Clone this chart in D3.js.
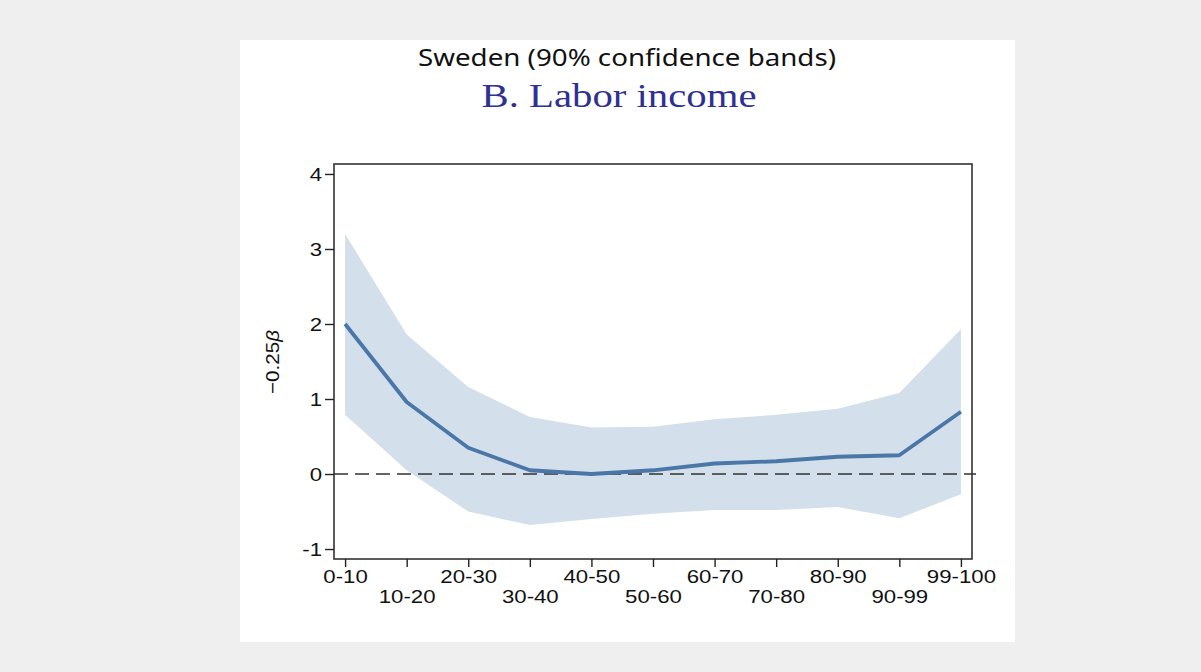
<!DOCTYPE html>
<html>
<head>
<meta charset="utf-8">
<script src="https://cdn.jsdelivr.net/npm/d3@7"></script>
<style>
  html, body { margin: 0; padding: 0; background: #efefef; }
  svg { display: block; }
</style>
</head>
<body>
<svg id="chart" width="1201" height="672"></svg>
<script>
// Income deciles / top groups
const categories = ["0-10", "10-20", "20-30", "30-40", "40-50", "50-60",
                    "60-70", "70-80", "80-90", "90-99", "99-100"];
// Point estimate of -0.25β
const estimate = [2.00, 0.96, 0.35, 0.05, 0.00, 0.05, 0.14, 0.17, 0.23, 0.25, 0.83];
// 90% confidence band
const upperBand = [3.20, 1.86, 1.16, 0.76, 0.62, 0.63, 0.73, 0.79, 0.87, 1.08, 1.93];
const lowerBand = [0.79, 0.05, -0.50, -0.68, -0.60, -0.53, -0.48, -0.48, -0.44, -0.59, -0.27];
// Y axis ticks
const yTicks = [-1, 0, 1, 2, 3, 4];

const svg = d3.select("#chart");

// white card
svg.append("rect").attr("x", 240).attr("y", 40).attr("width", 775).attr("height", 602)
  .attr("fill", "#ffffff");

// titles
svg.append("text").attr("x", 627).attr("y", 66).attr("text-anchor", "middle")
  .attr("font-family", "'Noto Sans', 'Open Sans', sans-serif").attr("font-size", 24)
  .attr("fill", "#111").attr("textLength", 418).attr("lengthAdjust", "spacingAndGlyphs")
  .text("Sweden (90% confidence bands)");

svg.append("text").attr("x", 619).attr("y", 107).attr("text-anchor", "middle")
  .attr("font-family", "'Liberation Serif', 'DejaVu Serif', serif").attr("font-size", 34)
  .attr("fill", "#2e3192").attr("textLength", 275).attr("lengthAdjust", "spacingAndGlyphs")
  .text("B. Labor income");

// plot area
const frame = { left: 334, right: 972, top: 164, bottom: 559 };

const x = d3.scalePoint().domain(categories)
  .range([frame.left, frame.right]).padding(0.18);
const y = d3.scaleLinear().domain([-1.133, 4.133])
  .range([frame.bottom, frame.top]);

const g = svg.append("g");

// confidence band
const area = d3.area()
  .x((d, i) => x(categories[i]))
  .y0((d, i) => y(lowerBand[i]))
  .y1((d, i) => y(upperBand[i]));
g.append("path").datum(categories).attr("d", area).attr("fill", "#d3dfea");

// zero reference line
g.append("line").attr("x1", frame.left).attr("x2", frame.right + 4)
  .attr("y1", y(0)).attr("y2", y(0))
  .attr("stroke", "#333").attr("stroke-width", 1.4).attr("stroke-dasharray", "14,7");

// estimate line
const line = d3.line()
  .x((d, i) => x(categories[i]))
  .y(d => y(d));
g.append("path").datum(estimate).attr("d", line)
  .attr("fill", "none").attr("stroke", "#4a77a7").attr("stroke-width", 3.8)
  .attr("stroke-linejoin", "round");

// frame
g.append("rect").attr("x", frame.left).attr("y", frame.top)
  .attr("width", frame.right - frame.left).attr("height", frame.bottom - frame.top)
  .attr("fill", "none").attr("stroke", "#333").attr("stroke-width", 1.6);

const stretch = 1.17;

// y axis
const yAxis = g.append("g").attr("transform", `translate(${frame.left},0)`)
  .call(d3.axisLeft(y).tickValues(yTicks).tickSize(9).tickPadding(4)
    .tickFormat(d => String(d)));
yAxis.select(".domain").remove();
yAxis.selectAll("line").attr("stroke", "#222").attr("stroke-width", 1.4);
yAxis.selectAll("text")
  .attr("font-family", "'Liberation Sans', Arial, sans-serif").attr("font-size", 19)
  .attr("fill", "#111").attr("dy", "0.36em")
  .attr("x", -12 / stretch)
  .attr("transform", `scale(${stretch},1)`);

// x axis
const xAxis = g.append("g").attr("transform", `translate(0,${frame.bottom})`)
  .call(d3.axisBottom(x).tickSize(8).tickPadding(2));
xAxis.select(".domain").remove();
xAxis.selectAll("line").attr("stroke", "#222").attr("stroke-width", 1.4);
xAxis.selectAll("text")
  .attr("font-family", "'Liberation Sans', Arial, sans-serif").attr("font-size", 19)
  .attr("fill", "#111")
  .attr("y", (d, i) => i % 2 === 0 ? 11 : 31)
  .attr("transform", `scale(${stretch},1)`);

// y axis title
svg.append("text")
  .attr("transform", "translate(279,362) rotate(-90)")
  .attr("text-anchor", "middle")
  .attr("font-family", "'Liberation Sans', Arial, sans-serif").attr("font-size", 19)
  .attr("fill", "#111").attr("textLength", 64).attr("lengthAdjust", "spacingAndGlyphs")
  .call(t => {
    t.append("tspan").text("\u22120.25");
    t.append("tspan").attr("font-style", "italic").text("\u03b2");
  });
</script>
</body>
</html>
